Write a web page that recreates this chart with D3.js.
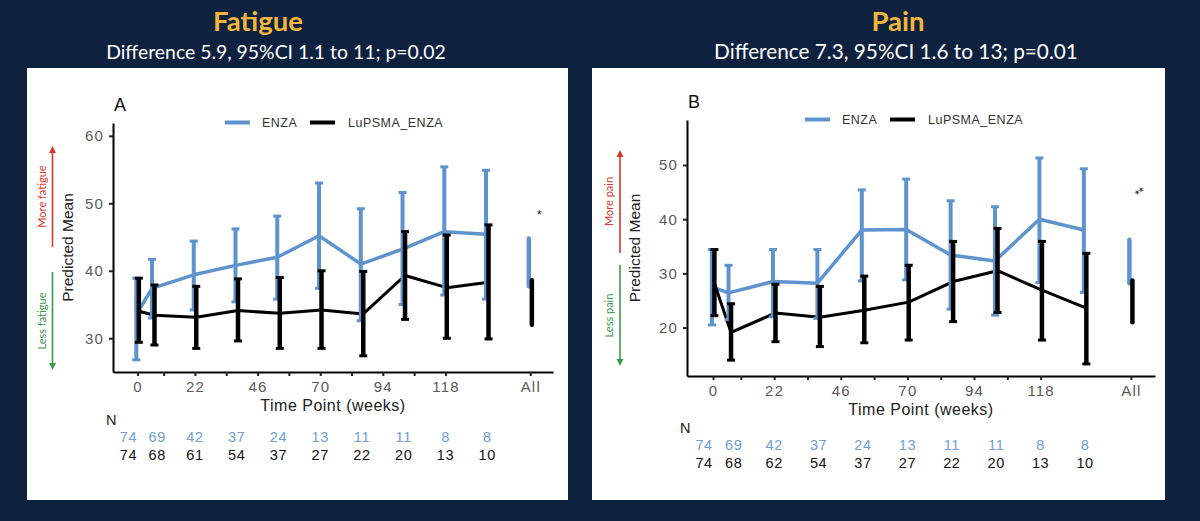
<!DOCTYPE html>
<html>
<head>
<meta charset="utf-8">
<script src="https://cdn.jsdelivr.net/npm/d3@7"></script>
<style>
  body { margin: 0; background: #0e2240; }
  svg { display: block; }
</style>
</head>
<body>
<svg id="chart" width="1200" height="521"></svg>
<script>
// time points (weeks) of the model estimates, plus the pooled "All" slot
const weeks = [0, 6, 22, 38, 54, 70, 86, 102, 118, 134];
const allSlot = 150.5;
const tickWeeks = [0, 10, 22, 34, 46, 58, 70, 82, 94, 106, 118, allSlot];
const tickLabels = ["0", "", "22", "", "46", "", "70", "", "94", "", "118", "All"];
const seriesNames = ["ENZA", "LuPSMA_ENZA"];

// Fatigue
const fatigueEnzaMean = [33.5, 37.4, 39.4, 40.8, 42.0, 45.2, 41.0, 43.2, 45.8, 45.4];
const fatigueEnzaLow  = [26.8, 33.0, 34.2, 35.4, 35.8, 37.4, 32.6, 35.0, 36.4, 35.8];
const fatigueEnzaHigh = [38.9, 41.7, 44.4, 46.2, 48.1, 53.0, 49.2, 51.6, 55.4, 54.9];
const fatigueLuMean   = [34.0, 33.4, 33.1, 34.1, 33.7, 34.2, 33.6, 39.3, 37.5, 38.3];
const fatigueLuLow    = [29.4, 29.0, 28.5, 29.6, 28.5, 28.5, 27.4, 32.8, 30.0, 29.9];
const fatigueLuHigh   = [38.9, 37.9, 37.7, 38.8, 39.0, 40.0, 39.9, 45.8, 45.3, 46.8];
const fatigueAllEnza  = [37.7, 44.8];
const fatigueAllLu    = [32.0, 38.6];

// Pain
const painEnzaMean = [27.5, 26.4, 28.5, 28.2, 38.0, 38.1, 33.4, 32.3, 40.0, 38.0];
const painEnzaLow  = [20.5, 21.5, 22.0, 21.7, 28.6, 28.8, 23.4, 22.3, 28.3, 26.5];
const painEnzaHigh = [34.4, 31.5, 34.4, 34.4, 45.4, 47.4, 43.4, 42.3, 51.3, 49.3];
const painLuMean   = [28.2, 19.1, 22.7, 21.9, 23.2, 24.7, 28.5, 30.5, 26.9, 23.6];
const painLuLow    = [22.2, 14.0, 17.4, 16.5, 17.2, 17.7, 21.1, 22.8, 17.7, 13.3];
const painLuHigh   = [34.4, 24.4, 28.0, 27.6, 29.5, 31.5, 35.9, 38.3, 35.9, 33.7];
const painAllEnza  = [28.2, 36.2];
const painAllLu    = [21.0, 28.7];

// numbers at risk
const fatigueNEnza = [74, 69, 42, 37, 24, 13, 11, 11, 8, 8];
const fatigueNLu   = [74, 68, 61, 54, 37, 27, 22, 20, 13, 10];
const painNEnza    = [74, 69, 42, 37, 24, 13, 11, 11, 8, 8];
const painNLu      = [74, 68, 62, 54, 37, 27, 22, 20, 13, 10];

const blue = "#5f93cd",
  nBlue = "#6f9fd3",
  black = "#000",
  gold = "#f1b73a",
  axisFont = "'Liberation Sans', Arial, sans-serif",
  titleFont = "Lato, 'Open Sans', sans-serif";

const svg = d3.select("#chart");

// shrink/grow a text element so it spans the given width
function fitWidth(sel, width) {
  const base = +sel.attr("font-size");
  const w = sel.node().getComputedTextLength();
  sel.attr("font-size", base * width / w);
  return base * width / w;
}

function drawPanel(p) {
  const g = svg.append("g");

  g.append("rect")
    .attr("x", p.box[0]).attr("y", p.box[1])
    .attr("width", p.box[2]).attr("height", p.box[3])
    .attr("fill", "#fff");

  const x = d3.scaleLinear().domain([-9.4, 159.2]).range([p.x0, p.x1]);
  const y = d3.scaleLinear().domain(p.yDomain).range([p.y1, p.y0]);

  // axes
  const gx = g.append("g")
    .attr("transform", "translate(0," + p.y1 + ")")
    .call(d3.axisBottom(x).tickValues(tickWeeks)
      .tickFormat((d, i) => tickLabels[i])
      .tickSize(4).tickSizeOuter(0).tickPadding(5));
  const gy = g.append("g")
    .attr("transform", "translate(" + p.x0 + ",0)")
    .call(d3.axisLeft(y).tickValues(p.yTicks).tickSize(4).tickSizeOuter(0).tickPadding(5));

  [gx, gy].forEach(a => {
    a.select(".domain").attr("stroke", "#000").attr("stroke-width", 2);
    a.selectAll(".tick line").attr("stroke", "#222").attr("stroke-width", 2);
    a.selectAll(".tick text")
      .attr("fill", "#5a5a5a")
      .attr("font-size", 15)
      .attr("letter-spacing", 1.2)
      .attr("font-family", axisFont);
  });

  g.append("text")
    .attr("x", (p.x0 + p.x1) / 2).attr("y", p.y1 + 39)
    .attr("text-anchor", "middle")
    .attr("font-family", axisFont).attr("font-size", 16).attr("fill", "#222")
    .attr("letter-spacing", 0.5)
    .text("Time Point (weeks)");

  g.append("text")
    .attr("transform", "translate(" + p.yLabelX + "," + ((p.y0 + p.y1) / 2) + ") rotate(-90)")
    .attr("text-anchor", "middle")
    .attr("font-family", axisFont).attr("font-size", 15.5).attr("fill", "#222")
    .text("Predicted Mean");

  g.append("text")
    .attr("x", p.x0 + 1).attr("y", p.y0 - 12)
    .attr("font-family", axisFont).attr("font-size", 18).attr("fill", "#111")
    .text(p.letter);

  // legend
  const lg = g.append("g").attr("transform", "translate(" + p.legend[0] + "," + p.legend[1] + ")");
  [[0, blue, seriesNames[0]], [85, black, seriesNames[1]]].forEach(([dx, c, name], i) => {
    lg.append("line").attr("x1", dx).attr("x2", dx + 25)
      .attr("stroke", c).attr("stroke-width", 4);
    lg.append("text").attr("x", dx + 37 + i * 1).attr("y", 4.5)
      .attr("font-family", axisFont).attr("font-size", 12.5)
      .attr("letter-spacing", 0.5).attr("fill", "#333")
      .text(name);
  });

  // lines and error bars
  const series = [
    { mean: p.enzaMean, low: p.enzaLow, high: p.enzaHigh, all: p.allEnza, color: blue, dodge: -1.2, lw: 3.5, bw: 4 },
    { mean: p.luMean, low: p.luLow, high: p.luHigh, all: p.allLu, color: black, dodge: 1.3, lw: 3, bw: 4.5 },
  ];

  series.forEach(s => {
    const line = d3.line()
      .x((d, i) => x(weeks[i]) + s.dodge)
      .y(d => y(d));
    g.append("path").datum(s.mean)
      .attr("d", line)
      .attr("fill", "none")
      .attr("stroke", s.color)
      .attr("stroke-width", s.lw)
      .attr("stroke-linejoin", "round");
  });

  series.forEach(s => {
    const eb = g.append("g").attr("stroke", s.color);
    weeks.forEach((w, i) => {
      const cx = x(w) + s.dodge;
      eb.append("line")
        .attr("x1", cx).attr("x2", cx)
        .attr("y1", y(s.low[i])).attr("y2", y(s.high[i]))
        .attr("stroke-width", s.bw);
      [s.low[i], s.high[i]].forEach(v => {
        eb.append("line")
          .attr("x1", cx - 4).attr("x2", cx + 4)
          .attr("y1", y(v)).attr("y2", y(v))
          .attr("stroke-width", 3);
      });
    });
    const ax = x(allSlot) + s.dodge * 1.2;
    eb.append("line")
      .attr("x1", ax).attr("x2", ax)
      .attr("y1", y(s.all[0])).attr("y2", y(s.all[1]))
      .attr("stroke-width", 4.5)
      .attr("stroke-linecap", "round");
  });

  g.append("text")
    .attr("transform", "translate(" + (x(allSlot) + p.starDx) + "," + y(p.starAt) + ") rotate(" + p.starTilt + ")")
    .attr("text-anchor", "middle")
    .attr("font-family", axisFont).attr("font-size", 13).attr("fill", "#222")
    .text(p.stars);

  // direction arrows
  const arrow = (yTail, yTip, color, label, labelY) => {
    const dir = yTip < yTail ? 1 : -1;
    g.append("line")
      .attr("x1", p.arrowX).attr("x2", p.arrowX)
      .attr("y1", yTail).attr("y2", yTip + dir * 5)
      .attr("stroke", color).attr("stroke-width", 1.6);
    g.append("path")
      .attr("d", "M" + (p.arrowX - 3.5) + "," + (yTip + dir * 7) + "L" + p.arrowX + "," + yTip + "L" + (p.arrowX + 3.5) + "," + (yTip + dir * 7) + "Z")
      .attr("fill", color);
    g.append("text")
      .attr("transform", "translate(" + (p.arrowX - 7) + "," + labelY + ") rotate(-90)")
      .attr("text-anchor", "middle")
      .attr("font-family", titleFont).attr("font-size", 11).attr("fill", color)
      .text(label);
  };
  arrow(p.upArrow[1], p.upArrow[0], "#d8382a", p.moreLabel, (p.upArrow[0] + p.upArrow[1]) / 2);
  arrow(p.downArrow[0], p.downArrow[1], "#3c9b4a", p.lessLabel, (p.downArrow[0] + p.downArrow[1]) / 2);

  // numbers at risk
  const nx = (i) => x(weeks[i]) + (i === 0 ? -9 : i === 1 ? 4 : 0);
  g.append("text")
    .attr("x", p.x0 - 7).attr("y", p.nTop)
    .attr("font-family", axisFont).attr("font-size", 14.5).attr("fill", "#222")
    .text("N");
  [[p.nEnza, nBlue, 17], [p.nLu, "#111", 35]].forEach(([vals, c, dy]) => {
    g.append("g").selectAll("text")
      .data(vals)
      .enter().append("text")
      .attr("x", (d, i) => nx(i))
      .attr("y", p.nTop + dy)
      .attr("text-anchor", "middle")
      .attr("font-family", axisFont).attr("font-size", 14.5)
      .attr("letter-spacing", 0.6).attr("fill", c)
      .text(d => d);
  });

  // headings
  const t = svg.append("text")
    .attr("x", p.titleX).attr("y", 31)
    .attr("text-anchor", "middle")
    .attr("font-family", titleFont).attr("font-weight", 700)
    .attr("font-size", 28).attr("fill", gold)
    .text(p.title);
  if (p.titleWidth) fitWidth(t, p.titleWidth);
  else t.attr("font-size", p.titleSize());

  const st = svg.append("text")
    .attr("x", p.subX).attr("y", 59)
    .attr("text-anchor", "middle")
    .attr("font-family", titleFont)
    .attr("font-size", 20).attr("fill", "#fff")
    .text(p.subtitle);
  fitWidth(st, p.subWidth);

  return t;
}

let titleSize = 28;
const ft = drawPanel({
  box: [27, 68, 541, 432],
  x0: 113, x1: 553, y0: 123, y1: 372, yLabelX: 73,
  yDomain: [25, 61.9], yTicks: [30, 40, 50, 60],
  letter: "A", legend: [225, 122.5],
  enzaMean: fatigueEnzaMean, enzaLow: fatigueEnzaLow, enzaHigh: fatigueEnzaHigh,
  luMean: fatigueLuMean, luLow: fatigueLuLow, luHigh: fatigueLuHigh,
  allEnza: fatigueAllEnza, allLu: fatigueAllLu,
  stars: "*", starAt: 47.6, starTilt: 0, starDx: 9,
  arrowX: 52.5, upArrow: [146, 247], downArrow: [272, 370],
  moreLabel: "More fatigue", lessLabel: "Less fatigue",
  nTop: 425, nEnza: fatigueNEnza, nLu: fatigueNLu,
  title: "Fatigue", titleX: 258, titleWidth: 90,
  subtitle: "Difference 5.9, 95%CI 1.1 to 11; p=0.02", subX: 276, subWidth: 340,
});
titleSize = +ft.attr("font-size");

drawPanel({
  box: [592, 68, 573, 432],
  x0: 687, x1: 1155, y0: 120, y1: 376, yLabelX: 640,
  yDomain: [11.07, 58.3], yTicks: [20, 30, 40, 50],
  letter: "B", legend: [805, 119.5],
  enzaMean: painEnzaMean, enzaLow: painEnzaLow, enzaHigh: painEnzaHigh,
  luMean: painLuMean, luLow: painLuLow, luHigh: painLuHigh,
  allEnza: painAllEnza, allLu: painAllLu,
  stars: "**", starAt: 44.2, starTilt: -35, starDx: 12,
  arrowX: 620, upArrow: [150, 253], downArrow: [265, 366],
  moreLabel: "More pain", lessLabel: "Less pain",
  nTop: 433, nEnza: painNEnza, nLu: painNLu,
  title: "Pain", titleX: 898, titleSize: () => titleSize,
  subtitle: "Difference 7.3, 95%CI 1.6 to 13; p=0.01", subX: 896, subWidth: 364,
});
</script>
</body>
</html>
